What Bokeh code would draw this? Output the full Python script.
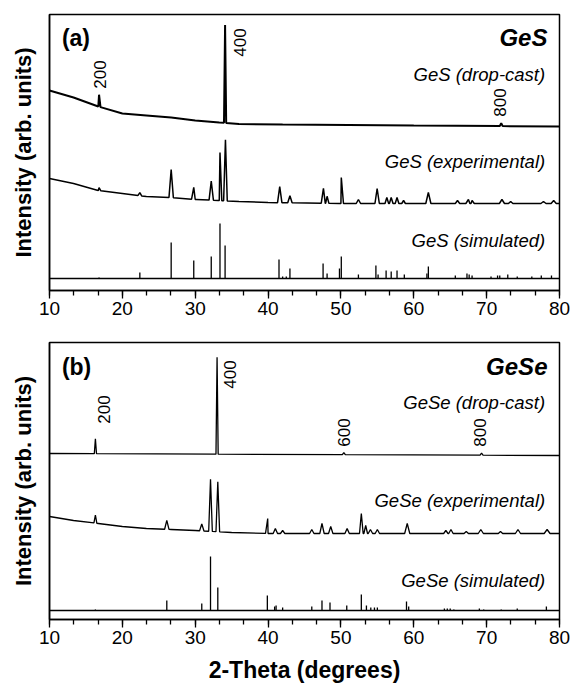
import numpy as np
from bokeh.plotting import figure
from bokeh.layouts import column
from bokeh.models import Range1d, FixedTicker, Label, ColumnDataSource
from bokeh.embed import file_html
from bokeh.resources import INLINE

FONT = "Liberation Sans"

# ---------------- data: panel (a) GeS ----------------
ges_drop_base_x = [10, 13.3, 16.7, 20, 23.3, 26.7, 30, 33.3, 36, 42, 60, 80]
ges_drop_base_y = [200, 193, 184, 177, 175, 173, 170, 168, 166.5, 166, 165, 164]
ges_drop_pk_pos = [16.8, 34.1, 72.0]
ges_drop_pk_h = [12, 98, 3]
ges_drop_pk_w = [0.2, 0.15, 0.2]

ges_exp_base_x = [10, 13.3, 16.7, 20, 23.3, 26.7, 30, 33.3, 36, 40, 50, 80]
ges_exp_base_y = [112, 107, 100, 97, 94, 93, 91, 90, 89, 88, 87, 87]
ges_exp_pk_pos = [16.8, 22.4, 26.7, 29.8, 32.2, 33.4, 34.15, 41.6, 43.0, 47.6, 48.1,
                  50.05, 52.4, 54.97, 56.3, 56.9, 57.7, 58.6, 62.0, 66.0, 67.5, 68.0,
                  72.1, 73.3, 77.8, 79.2]
ges_exp_pk_h = [3, 3, 28, 12, 19, 48, 61, 16, 7, 15, 7,
                26, 4, 15, 6, 6, 6, 3, 11, 3, 4, 3,
                4, 2, 2, 3]
ges_exp_pk_w = [0.25, 0.25, 0.3, 0.3, 0.3, 0.25, 0.25, 0.3, 0.3, 0.3, 0.25,
                0.3, 0.3, 0.3, 0.25, 0.25, 0.25, 0.25, 0.35, 0.3, 0.35, 0.3,
                0.35, 0.3, 0.35, 0.35]

ges_sim_base = 12
ges_sim_pk_pos = [16.8, 22.4, 26.7, 29.8, 32.2, 33.4, 34.1, 41.5, 42.0, 42.5, 43.0,
                  47.55, 48.1, 49.8, 50.05, 52.4, 54.8, 55.1, 56.2, 56.9, 57.7, 58.7,
                  61.8, 62.0, 65.7, 67.3, 67.6, 68.0, 70.6, 71.5, 71.8, 72.9, 74.2,
                  76.2, 77.5, 78.9]
ges_sim_pk_h = [1, 6, 36, 18, 22, 55, 33, 19, 2, 2, 10,
                15, 5, 10, 22, 4, 13, 4, 8, 7, 8, 4,
                5, 12, 3, 5, 4, 3, 2, 3, 3, 4, 2,
                2, 3, 3]

# ---------------- data: panel (b) GeSe ----------------
gese_drop_base_x = [10, 80]
gese_drop_base_y = [166, 164]
gese_drop_pk_pos = [16.3, 33.0, 50.4, 69.3]
gese_drop_pk_h = [15, 97, 2, 2]
gese_drop_pk_w = [0.15, 0.15, 0.2, 0.2]

gese_exp_base_x = [10, 13.3, 16.7, 20, 23.3, 26.7, 30, 35, 40, 80]
gese_exp_base_y = [103, 99, 96, 93, 91, 90, 89, 87, 86, 86]
gese_exp_pk_pos = [16.3, 26.1, 30.9, 32.1, 33.1, 39.95, 41.0, 42.0, 46.0, 47.4, 48.6,
                   50.85, 52.8, 53.4, 54.05, 55.0, 59.1, 64.4, 65.1, 67.2, 69.2,
                   71.9, 74.3, 78.3]
gese_exp_pk_h = [8, 9, 7, 52, 50, 15, 5, 3, 4, 10, 7,
                 5, 20, 8, 4, 4, 10, 3, 4, 2, 4,
                 2, 4, 4]
gese_exp_pk_w = [0.2, 0.3, 0.3, 0.25, 0.25, 0.3, 0.3, 0.3, 0.3, 0.3, 0.3,
                 0.3, 0.25, 0.25, 0.3, 0.3, 0.35, 0.3, 0.3, 0.3, 0.35,
                 0.3, 0.35, 0.4]

gese_sim_base = 9
gese_sim_pk_pos = [16.3, 26.1, 30.9, 32.1, 33.1, 39.9, 40.9, 41.1, 42.0, 46.0, 47.4,
                   48.5, 50.8, 52.8, 53.5, 54.1, 54.6, 55.0, 59.0, 59.3, 64.2, 64.6,
                   65.0, 65.5, 69.0, 69.6, 72.0, 74.2, 78.2]
gese_sim_pk_h = [1, 10, 7, 54, 23, 15, 4, 5, 3, 4, 10,
                 8, 5, 16, 5, 3, 3, 3, 9, 4, 2, 2,
                 2, 1, 2, 1, 1, 2, 4]

x_ticks = [10, 20, 30, 40, 50, 60, 70, 80]

ges_hkl = [("200", 16.96, 216), ("400", 36.17, 248), ("800", 71.86, 188)]
gese_hkl = [("200", 17.5, 210), ("400", 34.8, 245), ("600", 50.45, 187), ("800", 69.1, 187)]


def profile(bx, by, pos, h, w):
    xs = list(bx)
    for p, ww in zip(pos, w):
        xs += [p - ww, p, p + ww]
    xs = np.array(sorted(set(xs)))
    ys = np.interp(xs, bx, by)
    for p, hh in zip(pos, h):
        ys[np.isclose(xs, p)] += hh
    return xs, ys


def make_panel(tag, name, drop, exp, sim, hkl, ylab_pos, fh, top, bottom, xlabel):
    p = figure(frame_width=510, frame_height=fh,
               min_border_left=49, min_border_right=14,
               min_border_top=top, min_border_bottom=bottom,
               output_backend="svg", toolbar_location=None,
               x_range=Range1d(10, 80), y_range=Range1d(0, fh))
    p.background_fill_color = "white"
    p.border_fill_color = "white"
    p.xgrid.visible = False
    p.ygrid.visible = False
    p.outline_line_color = "black"
    p.outline_line_width = 1.5

    ax = p.xaxis[0]
    ax.ticker = FixedTicker(ticks=x_ticks,
                            minor_ticks=[float(v) for v in np.arange(10, 80.01, 10 / 3).round(4)])
    ax.major_tick_in = 0
    ax.major_tick_out = 8
    ax.minor_tick_in = 0
    ax.minor_tick_out = 5
    ax.major_tick_line_width = 1.3
    ax.minor_tick_line_width = 1.3
    ax.axis_line_width = 1.5
    ax.major_label_text_font = FONT
    ax.major_label_text_font_size = "19px"
    ax.major_label_text_color = "black"
    ax.major_label_standoff = 3
    if xlabel:
        ax.axis_label = xlabel
        ax.axis_label_text_font = FONT
        ax.axis_label_text_font_size = "23px"
        ax.axis_label_text_font_style = "bold"
        ax.axis_label_text_color = "black"
        ax.axis_label_standoff = 10

    ay = p.yaxis[0]
    ay.ticker = FixedTicker(ticks=[])
    ay.major_tick_out = 0
    ay.minor_tick_out = 0
    ay.major_label_standoff = 0
    ay.axis_line_width = 1.5
    ay.axis_label = "Intensity (arb. units)"
    ay.axis_label_text_font = FONT
    ay.axis_label_text_font_size = "22px"
    ay.axis_label_text_font_style = "bold"
    ay.axis_label_text_color = "black"
    ay.axis_label_standoff = 14

    dx, dy = profile(*drop)
    p.line(dx, dy, line_color="black", line_width=2.0 if tag == "(a)" else 1.3)
    ex, ey = profile(*exp)
    p.line(ex, ey, line_color="black", line_width=1.5 if tag == "(a)" else 1.3)
    base, spos, sh = sim
    p.line([10, 80], [base, base], line_color="black", line_width=1.3)
    src = ColumnDataSource(dict(x=spos, y0=[base] * len(spos),
                                y1=[base + v for v in sh]))
    p.segment(x0="x", y0="y0", x1="x", y1="y1", source=src,
              line_color="black", line_width=1.3)

    p.add_layout(Label(x=11.7, y=253, text=tag, text_font=FONT, text_font_size="23px",
                       text_font_style="bold", text_baseline="middle", text_align="left",
                       text_color="black"))
    p.add_layout(Label(x=78.35, y=253, text=name, text_font=FONT, text_font_size="24px",
                       text_font_style="bold italic", text_baseline="middle",
                       text_align="right", text_color="black"))
    for txt, yy in ylab_pos:
        p.add_layout(Label(x=78.03, y=yy, text=txt, text_font=FONT,
                           text_font_size="18.5px", text_font_style="italic",
                           text_baseline="alphabetic", text_align="right",
                           text_color="black"))
    for txt, xx, yy in hkl:
        p.add_layout(Label(x=xx, y=yy, text=txt, text_font=FONT, text_font_size="17px",
                           angle=np.pi / 2, text_baseline="middle", text_align="center",
                           text_color="black"))
    return p


pa = make_panel("(a)", "GeS",
                (ges_drop_base_x, ges_drop_base_y, ges_drop_pk_pos, ges_drop_pk_h, ges_drop_pk_w),
                (ges_exp_base_x, ges_exp_base_y, ges_exp_pk_pos, ges_exp_pk_h, ges_exp_pk_w),
                (ges_sim_base, ges_sim_pk_pos, ges_sim_pk_h),
                ges_hkl,
                [("GeS (drop-cast)", 216), ("GeS (experimental)", 129), ("GeS (simulated)", 50)],
                276, 14, 38, None)
pb = make_panel("(b)", "GeSe",
                (gese_drop_base_x, gese_drop_base_y, gese_drop_pk_pos, gese_drop_pk_h, gese_drop_pk_w),
                (gese_exp_base_x, gese_exp_base_y, gese_exp_pk_pos, gese_exp_pk_h, gese_exp_pk_w),
                (gese_sim_base, gese_sim_pk_pos, gese_sim_pk_h),
                gese_hkl,
                [("GeSe (drop-cast)", 217), ("GeSe (experimental)", 119), ("GeSe (simulated)", 39)],
                277, 14, 69, "2-Theta (degrees)")

layout = column(pa, pb, spacing=0)
open("out.html", "w").write(file_html(layout, INLINE))
